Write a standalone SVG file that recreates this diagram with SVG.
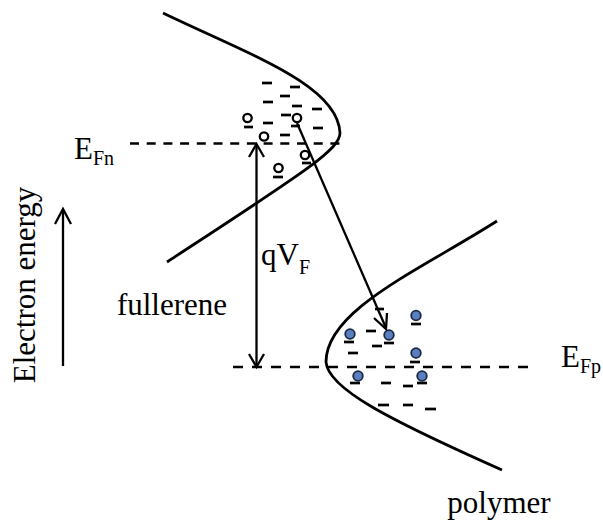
<svg xmlns="http://www.w3.org/2000/svg" width="603" height="525" viewBox="0 0 603 525">
<defs>
<style>
.curve{fill:none;stroke:#000;stroke-width:2.8}
.ln{fill:none;stroke:#000;stroke-width:2.3;stroke-linecap:butt}
.dash1{fill:none;stroke:#000;stroke-width:2.4;stroke-dasharray:9 7.7}
.dash2{fill:none;stroke:#000;stroke-width:2.4;stroke-dasharray:10 9}
.m{stroke:#000;stroke-width:2.7}
.h{fill:none;stroke:#000;stroke-width:2.3}
.b{fill:#5a7fc0;stroke:#1b2a44;stroke-width:1.8}
.t{font-family:"Liberation Serif","Times New Roman",serif;fill:#000}
</style>
</defs>
<rect width="603" height="525" fill="#fff"/>

<g id="fullerene-band">
<path class="curve" d="M163,13 C250,55 338,85 340,133 C340,150 300,175 167,262"/>
</g>
<g id="polymer-band">
<path class="curve" d="M497,221 C420,270 326,310 326,362 C328,388 385,418 502,470"/>
</g>

<g id="fermi-levels">
<line class="dash1" x1="130" y1="143.5" x2="342" y2="143.5"/>
<line class="dash2" x1="233" y1="367" x2="533" y2="367"/>
</g>

<g id="fullerene-charges">
<g class="m">
<line x1="262" y1="83" x2="272" y2="83"/>
<line x1="290" y1="87" x2="300" y2="87"/>
<line x1="280" y1="96" x2="290" y2="96"/>
<line x1="263" y1="102" x2="273" y2="102"/>
<line x1="292" y1="106" x2="302" y2="106"/>
<line x1="312" y1="109" x2="322" y2="109"/>
<line x1="281" y1="115" x2="291" y2="115"/>
<line x1="263" y1="123" x2="273" y2="123"/>
<line x1="244" y1="127" x2="253" y2="127"/>
<line x1="291" y1="126" x2="300" y2="126"/>
<line x1="313" y1="128" x2="323" y2="128"/>
<line x1="280" y1="135" x2="290" y2="135"/>
<line x1="302" y1="163" x2="311" y2="163"/>
<line x1="273" y1="177" x2="283" y2="177"/>
</g>
<circle class="h" cx="247.5" cy="118" r="4.2"/>
<circle class="h" cx="297" cy="118" r="4.2"/>
<circle class="h" cx="264" cy="136.5" r="4.2"/>
<circle class="h" cx="305" cy="155" r="4.2"/>
<circle class="h" cx="278.5" cy="168" r="4.2"/>
</g>

<g id="polymer-charges">
<g class="m">
<line x1="375" y1="309" x2="384" y2="309"/>
<line x1="411" y1="324" x2="421" y2="324"/>
<line x1="344" y1="342" x2="354" y2="342"/>
<line x1="366" y1="331" x2="376" y2="331"/>
<line x1="384" y1="343" x2="394" y2="343"/>
<line x1="372" y1="346" x2="382" y2="346"/>
<line x1="348" y1="353" x2="358" y2="353"/>
<line x1="410" y1="362" x2="420" y2="362"/>
<line x1="350" y1="383" x2="360" y2="383"/>
<line x1="417" y1="383" x2="427" y2="383"/>
<line x1="381" y1="383" x2="391" y2="383"/>
<line x1="403" y1="386" x2="413" y2="386"/>
<line x1="378" y1="405" x2="389" y2="405"/>
<line x1="403" y1="405" x2="413" y2="405"/>
<line x1="425" y1="409" x2="436" y2="409"/>
</g>
<circle class="b" cx="416" cy="315.5" r="4.8"/>
<circle class="b" cx="350" cy="334" r="4.8"/>
<circle class="b" cx="389" cy="335" r="4.8"/>
<circle class="b" cx="416" cy="353" r="4.8"/>
<circle class="b" cx="358" cy="376" r="4.8"/>
<circle class="b" cx="422" cy="376" r="4.8"/>
</g>

<g id="connectors">
<line class="ln" x1="256.5" y1="145" x2="256.5" y2="365"/>
<polyline class="ln" points="249,157 256.5,144 264,157"/>
<polyline class="ln" points="249,354 256.5,367 264,354"/>
<line class="ln" x1="297" y1="123" x2="386" y2="328"/>
<polyline class="ln" points="374,318 386,329 387,313"/>
<line class="ln" x1="63" y1="210" x2="63" y2="366"/>
<polyline class="ln" points="55,224 63,209 71,224"/>
</g>

<g id="labels">
<text class="t" x="74" y="159" font-size="31">E<tspan font-size="20" dy="6">Fn</tspan></text>
<text class="t" x="561" y="367" font-size="31">E<tspan font-size="20" dy="6">Fp</tspan></text>
<text class="t" x="261" y="265" font-size="31">qV<tspan font-size="20" dy="9">F</tspan></text>
<text class="t" x="172" y="315" font-size="31" text-anchor="middle">fullerene</text>
<text class="t" x="499" y="513" font-size="31" text-anchor="middle">polymer</text>
<text class="t" x="35" y="285" font-size="31" text-anchor="middle" transform="rotate(-90 35 285)">Electron energy</text>
</g>
</svg>
